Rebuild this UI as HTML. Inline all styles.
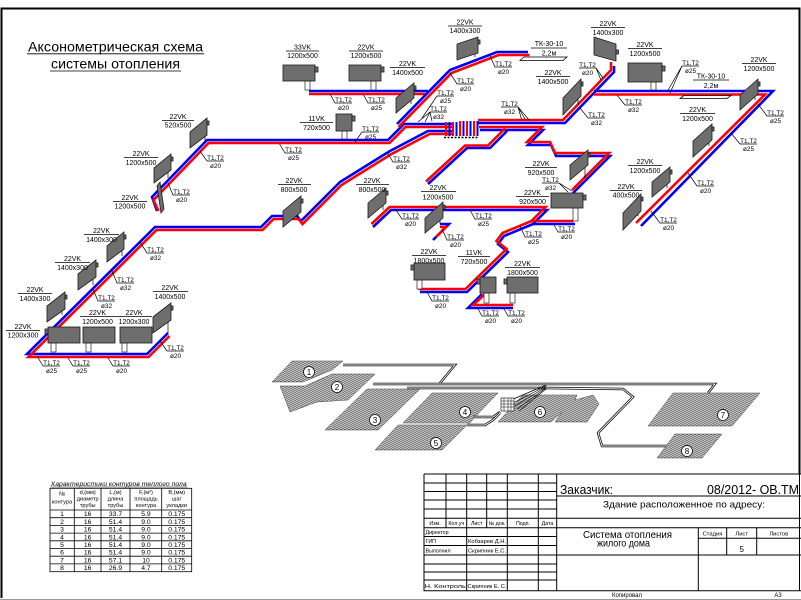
<!DOCTYPE html>
<html><head><meta charset="utf-8">
<style>
html,body{margin:0;padding:0;background:#fff;}
svg{display:block;}
text{font-family:"Liberation Sans","DejaVu Sans",sans-serif;fill:#000;}
.s{font-size:7px;}
.t{font-size:6.4px;}
.m{text-anchor:middle;}
.b{fill:none;stroke:#0000ff;stroke-width:2.6;stroke-linejoin:miter;}
.r{fill:none;stroke:#ff0000;stroke-width:2.6;stroke-linejoin:miter;}
.rad{fill:#6e6e6e;stroke:#1a1a1a;stroke-width:0.8;}
.ln{stroke:#000;stroke-width:0.7;fill:none;}
.tb{stroke:#000;stroke-width:1;fill:none;}
.stub{fill:#fff;stroke:#222;stroke-width:0.7;}
.room{fill:url(#hp);stroke:#444;stroke-width:0.5;}
.dp{fill:none;stroke:#000;stroke-width:2.4;}
.dw{fill:none;stroke:#fff;stroke-width:0.9;}
</style></head><body>
<svg width="801" height="600" viewBox="0 0 801 600" xmlns="http://www.w3.org/2000/svg">
<defs>
<pattern id="hp" patternUnits="userSpaceOnUse" width="4" height="2"><rect width="4" height="2" fill="#c4c4c4"/><line x1="0" y1="1.6" x2="4" y2="0.4" stroke="#555" stroke-width="0.6"/></pattern>
</defs>
<rect width="801" height="600" fill="#fff"/>

<!-- frame -->
<path d="M1.5,598 V8.5 H799.5 V474" fill="none" stroke="#000" stroke-width="2"/>

<!-- title -->
<text x="28" y="51.5" font-size="14" textLength="175" lengthAdjust="spacingAndGlyphs">Аксонометрическая схема</text>
<line x1="27" y1="53.8" x2="204" y2="53.8" stroke="#000" stroke-width="0.8"/>
<text x="51" y="68.3" font-size="14" textLength="129" lengthAdjust="spacingAndGlyphs">системы отопления</text>
<line x1="50" y1="71" x2="181" y2="71" stroke="#000" stroke-width="0.8"/>

<!-- ================= PIPES ================= -->
<path class="b" d="M309,91 L428,91"/>
<path class="r" d="M309,94 L426,94"/>
<path class="b" d="M157,211 L152,197 L207,140 L388,140 L404,124 L452,124"/>
<path class="r" transform="translate(1.5,3)" d="M157,208 L152,197 L207,140 L388,140 L404,124 L452,124"/>
<path class="b" d="M397,124 L450,70 L497,52 L528,52"/>
<path class="r" transform="translate(1.5,3)" d="M397,124 L450,70 L497,52 L528,52"/>
<path class="b" d="M452,131 L428,131 L390,151 L340,182 L301,221 L297,216 L272,216 L261,227 L155,227 L27,354 L147,354 L168,333"/>
<path class="r" transform="translate(1.5,3)" d="M452,131 L428,131 L390,151 L340,182 L301,221 L297,216 L272,216 L261,227 L155,227 L27,354 L147,354 L168,333"/>
<path class="b" d="M478,123 L565,123 L614,72 L614,66"/>
<path class="r" d="M478,120 L563,120 L611,70 L611,62"/>
<path class="b" d="M594,91 L773,91 L641,226"/>
<path class="r" d="M594,94.5 L765,94.5 L636,223"/>
<path class="b" d="M480,130 L543,130 L528,145 L551,145 L556,156 L610,156 L573,193"/>
<path class="r" transform="translate(-1,-3)" d="M480,130 L543,130 L528,145 L551,145 L556,156 L610,156 L573,193"/>
<path class="b" d="M507,131 L490,148 L467,148 L428,184"/>
<path class="r" transform="translate(-2,-2.5)" d="M507,131 L490,148 L467,148 L428,184"/>
<path class="b" d="M373,227 L391,210 L547,210 L533,224 L575,224"/>
<path class="r" transform="translate(-1.5,-3)" d="M373,227 L391,210 L547,210 L533,224 L575,224"/>
<path class="b" d="M533,224 L504,236 L498,244 L508,252 L467,292 L420,292"/>
<path class="r" transform="translate(-1.5,-3)" d="M533,224 L504,236 L498,244 L508,252 L467,292 L420,292"/>
<path class="b" d="M482,294 L468,308 L513,308"/>
<path class="r" d="M485,294 L473,305 L513,305"/>
<path class="b" d="M433,240 L449,224 L440,224"/>
<path class="r" d="M436,237 L446,227 L440,227"/>

<!-- bundle -->
<g stroke-width="2">
<line x1="446" y1="122" x2="446" y2="136" stroke="#ff0000"/>
<line x1="449.5" y1="122" x2="449.5" y2="136" stroke="#0000ff"/>
<line x1="453" y1="122" x2="453" y2="136" stroke="#ff0000"/>
<line x1="456.5" y1="122" x2="456.5" y2="136" stroke="#0000ff"/>
<line x1="460" y1="121" x2="460" y2="136" stroke="#ff0000"/>
<line x1="463.5" y1="121" x2="463.5" y2="136" stroke="#0000ff"/>
<line x1="467" y1="121" x2="467" y2="136" stroke="#ff0000"/>
<line x1="470.5" y1="121" x2="470.5" y2="136" stroke="#0000ff"/>
<line x1="474" y1="121" x2="474" y2="136" stroke="#ff0000"/>
<line x1="477.5" y1="121" x2="477.5" y2="136" stroke="#0000ff"/>
</g>
<path d="M444,137.5 H479" stroke="#000" stroke-width="1.6" stroke-dasharray="2,1.5"/>

<!-- ================= RADIATORS ================= -->
<rect class="stub" x="305" y="81" width="5" height="9"/>
<rect class="stub" x="371" y="81" width="5" height="9"/>
<rect class="stub" x="342" y="131" width="5" height="8"/>
<rect class="stub" x="651" y="82" width="5" height="8"/>
<rect class="stub" x="573" y="208" width="5" height="13"/>
<rect class="stub" x="417" y="280" width="5" height="9"/>
<rect class="stub" x="484" y="293" width="5" height="10"/>
<rect class="stub" x="510" y="293" width="5" height="10"/>
<rect class="stub" x="51" y="343" width="5" height="9"/>
<rect class="stub" x="86" y="343" width="5" height="9"/>
<rect class="stub" x="122" y="343" width="5" height="9"/>
<g class="ln">
<line x1="205" y1="135" x2="205" y2="141"/>
<line x1="168" y1="171" x2="168" y2="178"/>
<line x1="122" y1="249" x2="122" y2="256"/>
<line x1="93" y1="277" x2="93" y2="285"/>
<line x1="62" y1="309" x2="62" y2="315"/>
<line x1="168" y1="320" x2="168" y2="333"/>
<line x1="298" y1="212" x2="298" y2="218"/>
<line x1="383" y1="203" x2="383" y2="210"/>
<line x1="440" y1="218" x2="440" y2="224"/>
<line x1="411" y1="98" x2="411" y2="104"/>
<line x1="475" y1="53" x2="475" y2="57"/>
<line x1="578" y1="96" x2="578" y2="105"/>
<line x1="755" y1="94" x2="755" y2="100"/>
<line x1="709" y1="140" x2="709" y2="146"/>
<line x1="667" y1="182" x2="667" y2="188"/>
<line x1="638" y1="211" x2="638" y2="216"/>
<line x1="585" y1="165" x2="585" y2="178"/>
</g>
<polygon class="rad" points="190,148 190,132 207,118 207,135"/>
<polygon class="rad" points="154,183 154,168 171,154 171,170"/>
<polygon class="rad" points="157,186 160,182 164,209 161,213"/>
<polygon class="rad" points="107,262 107,246 124,232 124,249"/>
<polygon class="rad" points="78,290 78,274 96,260 96,277"/>
<polygon class="rad" points="47,322 47,306 65,292 65,309"/>
<polygon class="rad" points="153,333 153,317 171,303 171,320"/>
<polygon class="rad" points="283,227 283,211 301,196 301,212"/>
<polygon class="rad" points="368,218 368,203 386,188 386,203"/>
<polygon class="rad" points="425,233 425,218 443,202 443,218"/>
<polygon class="rad" points="396,113 396,98 414,83 414,98"/>
<polygon class="rad" points="457,60 457,44 478,37 478,53"/>
<polygon class="rad" points="594,37 616,44 616,61 594,55"/>
<polygon class="rad" points="563,115 563,98 581,79 581,96"/>
<polygon class="rad" points="740,110 740,95 758,79 758,94"/>
<polygon class="rad" points="693,157 693,141 712,124 712,140"/>
<polygon class="rad" points="652,197 652,182 670,167 670,182"/>
<polygon class="rad" points="623,230 623,213 641,194 641,211"/>
<polygon class="rad" points="570,180 570,165 588,150 588,165"/>
<g class="rad">
<rect x="207" y="121" width="2" height="4"/><rect x="171" y="157" width="2" height="4"/>
<rect x="124" y="235" width="2" height="4"/><rect x="96" y="263" width="2" height="4"/>
<rect x="65" y="295" width="2" height="4"/><rect x="171" y="306" width="2" height="4"/>
<rect x="301" y="199" width="2" height="4"/><rect x="386" y="191" width="2" height="4"/>
<rect x="443" y="205" width="2" height="4"/><rect x="414" y="86" width="2" height="4"/>
<rect x="478" y="40" width="2" height="4"/><rect x="616" y="50" width="2.5" height="4"/>
<rect x="581" y="82" width="2" height="4"/><rect x="758" y="82" width="2" height="4"/>
<rect x="712" y="127" width="2" height="4"/><rect x="670" y="170" width="2" height="4"/>
<rect x="641" y="197" width="2" height="4"/><rect x="588" y="153" width="2" height="4"/>
</g>
<rect class="rad" x="283" y="65" width="32" height="16"/><rect class="rad" x="315" y="67" width="3" height="5"/>
<rect class="rad" x="349" y="65" width="32" height="16"/><rect class="rad" x="381" y="67" width="3" height="5"/>
<rect class="rad" x="336" y="114" width="16" height="17"/><rect class="rad" x="352" y="116" width="3" height="5"/>
<rect class="rad" x="628" y="63" width="34" height="19"/><rect class="rad" x="662" y="66" width="3" height="5"/>
<rect class="rad" x="551" y="193" width="32" height="15"/><rect class="rad" x="583" y="195" width="3" height="5"/>
<rect class="rad" x="414" y="263" width="31" height="17"/><rect class="rad" x="411" y="265" width="3" height="5"/>
<rect class="rad" x="480" y="277" width="16" height="16"/><rect class="rad" x="477" y="279" width="3" height="5"/>
<rect class="rad" x="507" y="277" width="31" height="16"/><rect class="rad" x="504" y="279" width="3" height="5"/>
<rect class="rad" x="48" y="327" width="32" height="16"/><rect class="rad" x="45" y="329" width="3" height="5"/>
<rect class="rad" x="83" y="327" width="32" height="16"/>
<rect class="rad" x="120" y="327" width="32" height="16"/>

<polygon points="520,60.5 563,60.5 567,57 524,57" fill="#fff" stroke="#000" stroke-width="0.8"/>
<polygon points="680,98.5 727,98.5 731,95.5 684,95.5" fill="#fff" stroke="#000" stroke-width="0.8"/>
<text class="s m" x="549" y="46">ТК-30-10</text>
<line class="ln" x1="531" y1="48" x2="567" y2="48"/>
<text class="s m" x="549" y="55.5">2,2м</text>
<text class="s m" x="711" y="78.5">ТК-30-10</text>
<line class="ln" x1="693" y1="80" x2="729" y2="80"/>
<text class="s m" x="711" y="88">2,2м</text>

<!-- ================= RADIATOR LABELS ================= -->
<g class="s m">
<text x="465" y="24.5">22VK</text><text x="465" y="33">1400x300</text>
<text x="302.5" y="49.5">33VK</text><text x="302.5" y="58">1200x500</text>
<text x="366" y="49.5">22VK</text><text x="366" y="58">1200x500</text>
<text x="407.5" y="66">22VK</text><text x="407.5" y="75">1400x500</text>
<text x="316.5" y="121">11VK</text><text x="316.5" y="130">720x500</text>
<text x="608" y="26">22VK</text><text x="608" y="35">1400x300</text>
<text x="645" y="47">22VK</text><text x="645" y="56">1200x500</text>
<text x="553" y="75">22VK</text><text x="553" y="84">1400x500</text>
<text x="759" y="62">22VK</text><text x="759" y="71">1200x500</text>
<text x="697.5" y="112">22VK</text><text x="697.5" y="121">1200x500</text>
<text x="645" y="164">22VK</text><text x="645" y="173">1200x500</text>
<text x="626" y="189">22VK</text><text x="626" y="197.5">400x500</text>
<text x="178" y="119">22VK</text><text x="178" y="127.5">520x500</text>
<text x="141" y="156">22VK</text><text x="141" y="165">1200x500</text>
<text x="130" y="200">22VK</text><text x="130" y="208.5">1200x500</text>
<text x="101.5" y="233">22VK</text><text x="101.5" y="242">1400x300</text>
<text x="72.5" y="261">22VK</text><text x="72.5" y="270">1400x300</text>
<text x="35" y="292">22VK</text><text x="35" y="301">1400x300</text>
<text x="23" y="329">22VK</text><text x="23" y="337.5">1200x300</text>
<text x="97.5" y="315">22VK</text><text x="97.5" y="324">1200x500</text>
<text x="134" y="315">22VK</text><text x="134" y="324">1200x300</text>
<text x="170" y="290">22VK</text><text x="170" y="299">1400x500</text>
<text x="294" y="183">22VK</text><text x="294" y="192">800x500</text>
<text x="372" y="183">22VK</text><text x="372" y="192">800x500</text>
<text x="438" y="190">22VK</text><text x="438" y="199.5">1200x500</text>
<text x="541" y="166">22VK</text><text x="541" y="175">920x500</text>
<text x="532.5" y="195">22VK</text><text x="532.5" y="204">920x500</text>
<text x="429" y="254">22VK</text><text x="429" y="263">1800x500</text>
<text x="474" y="255">11VK</text><text x="474" y="264">720x500</text>
<text x="522.5" y="266">22VK</text><text x="522.5" y="275">1800x500</text>
</g>
<g class="ln">
<line x1="448" y1="26" x2="482" y2="26"/>
<line x1="286" y1="51" x2="319" y2="51"/>
<line x1="349" y1="51" x2="383" y2="51"/>
<line x1="390" y1="67.5" x2="425" y2="67.5"/>
<line x1="300" y1="122.5" x2="333" y2="122.5"/>
<line x1="591" y1="27.5" x2="625" y2="27.5"/>
<line x1="628" y1="48.5" x2="662" y2="48.5"/>
<line x1="536" y1="76.5" x2="570" y2="76.5"/>
<line x1="742" y1="63.5" x2="776" y2="63.5"/>
<line x1="680" y1="113.5" x2="715" y2="113.5"/>
<line x1="628" y1="165.5" x2="662" y2="165.5"/>
<line x1="610" y1="190.5" x2="642" y2="190.5"/>
<line x1="162" y1="120.5" x2="194" y2="120.5"/>
<line x1="124" y1="157.5" x2="158" y2="157.5"/>
<line x1="113" y1="201.5" x2="147" y2="201.5"/>
<line x1="84" y1="234.5" x2="119" y2="234.5"/>
<line x1="55" y1="262.5" x2="90" y2="262.5"/>
<line x1="18" y1="293.5" x2="52" y2="293.5"/>
<line x1="6" y1="330.5" x2="40" y2="330.5"/>
<line x1="80" y1="316.5" x2="152" y2="316.5"/>
<line x1="153" y1="291.5" x2="188" y2="291.5"/>
<line x1="278" y1="184.5" x2="311" y2="184.5"/>
<line x1="356" y1="184.5" x2="389" y2="184.5"/>
<line x1="421" y1="191.5" x2="456" y2="191.5"/>
<line x1="525" y1="167.5" x2="557" y2="167.5"/>
<line x1="516" y1="196.5" x2="549" y2="196.5"/>
<line x1="412" y1="255.5" x2="446" y2="255.5"/>
<line x1="458" y1="256.5" x2="490" y2="256.5"/>
<line x1="505" y1="267.5" x2="540" y2="267.5"/>
</g>

<!-- ================= PIPE LABELS ================= -->
<g class="ln">
<path d="M330,94 L335,103 h17"/>
<path d="M363,94 L368,103 h17"/>
<path d="M422,118 L437,96 h17"/>
<path d="M418,122 L430,112 h17 M425,122 L430,112 M432,121 L430,112"/>
<path d="M450,73 L457,84 h17"/>
<path d="M490,56 L495,67 h17"/>
<path d="M501,107 h17 L522,121 M518,107 L526,121 M518,107 L530,121"/>
<path d="M355,142 L362,132 h17"/>
<path d="M279,143 L285,153 h17"/>
<path d="M387,152 L393,162 h17"/>
<path d="M579,68 h17 L603,78 M596,68 L601,80"/>
<path d="M699,66 h-17 L667,92 M682,66 L670,93"/>
<path d="M617,95 L625,105 h17"/>
<path d="M580,108 L588,118 h17"/>
<path d="M758,104 L767,116 h17"/>
<path d="M731,133 L740,144 h17"/>
<path d="M688,173 L697,186 h17"/>
<path d="M651,211 L660,223 h17"/>
<path d="M542,183 h17 L568,192 M559,183 L572,191"/>
<path d="M200,151 L207,161 h17"/>
<path d="M168,183 L173,195 h17"/>
<path d="M140,242 L147,253 h17"/>
<path d="M112,271 L117,283 h17"/>
<path d="M93,289 L98,301 h17"/>
<path d="M160,341 L167,351 h17"/>
<path d="M37,356 L43,366 h17"/>
<path d="M67,356 L73,366 h17"/>
<path d="M107,356 L113,366 h17"/>
<path d="M396,210 L402,219 h17"/>
<path d="M470,210 L475,219 h17"/>
<path d="M442,229 L447,240 h17"/>
<path d="M520,226 L525,237 h17"/>
<path d="M427,292 L432,301 h17"/>
<path d="M477,307 L482,316 h17"/>
<path d="M503,307 L508,316 h17"/>
<path d="M553,223 L558,232 h17"/>
</g>
<g class="t m">
<text x="343.5" y="101.8">T1,T2</text><text x="343.5" y="110">ø20</text>
<text x="376.5" y="101.8">T1,T2</text><text x="376.5" y="110">ø25</text>
<text x="445.5" y="94.8">T1,T2</text><text x="445.5" y="103">ø25</text>
<text x="438.5" y="110.8">T1,T2</text><text x="438.5" y="119">ø32</text>
<text x="465.5" y="82.8">T1,T2</text><text x="465.5" y="91">ø20</text>
<text x="503.5" y="65.8">T1,T2</text><text x="503.5" y="74">ø20</text>
<text x="509.5" y="105.8">T1,T2</text><text x="509.5" y="114">ø32</text>
<text x="370.5" y="130.8">T1,T2</text><text x="370.5" y="139">ø25</text>
<text x="293.5" y="151.8">T1,T2</text><text x="293.5" y="160">ø25</text>
<text x="401.5" y="160.8">T1,T2</text><text x="401.5" y="169">ø32</text>
<text x="587.5" y="66.8">T1,T2</text><text x="587.5" y="75">ø20</text>
<text x="690.5" y="64.8">T1,T2</text><text x="690.5" y="73">ø25</text>
<text x="633.5" y="103.8">T1,T2</text><text x="633.5" y="112">ø32</text>
<text x="596.5" y="116.8">T1,T2</text><text x="596.5" y="125">ø32</text>
<text x="775.5" y="114.8">T1,T2</text><text x="775.5" y="123">ø25</text>
<text x="748.5" y="142.8">T1,T2</text><text x="748.5" y="151">ø25</text>
<text x="705.5" y="184.8">T1,T2</text><text x="705.5" y="193">ø20</text>
<text x="668.5" y="221.8">T1,T2</text><text x="668.5" y="230">ø20</text>
<text x="550.5" y="181.8">T1,T2</text><text x="550.5" y="190">ø32</text>
<text x="215.5" y="159.8">T1,T2</text><text x="215.5" y="168">ø20</text>
<text x="181.5" y="193.8">T1,T2</text><text x="181.5" y="202">ø20</text>
<text x="155.5" y="251.8">T1,T2</text><text x="155.5" y="260">ø32</text>
<text x="125.5" y="281.8">T1,T2</text><text x="125.5" y="290">ø32</text>
<text x="106.5" y="299.8">T1,T2</text><text x="106.5" y="308">ø32</text>
<text x="175.5" y="349.8">T1,T2</text><text x="175.5" y="358">ø20</text>
<text x="51.5" y="364.8">T1,T2</text><text x="51.5" y="373">ø25</text>
<text x="81.5" y="364.8">T1,T2</text><text x="81.5" y="373">ø25</text>
<text x="121.5" y="364.8">T1,T2</text><text x="121.5" y="373">ø20</text>
<text x="410.5" y="217.8">T1,T2</text><text x="410.5" y="226">ø20</text>
<text x="483.5" y="217.8">T1,T2</text><text x="483.5" y="226">ø25</text>
<text x="455.5" y="238.8">T1,T2</text><text x="455.5" y="247">ø20</text>
<text x="533.5" y="235.8">T1,T2</text><text x="533.5" y="244">ø25</text>
<text x="440.5" y="299.8">T1,T2</text><text x="440.5" y="308">ø20</text>
<text x="490.5" y="314.8">T1,T2</text><text x="490.5" y="323">ø20</text>
<text x="516.5" y="314.8">T1,T2</text><text x="516.5" y="323">ø20</text>
<text x="566.5" y="230.8">T1,T2</text><text x="566.5" y="239">ø20</text>
</g>

<!-- ================= FLOOR PLAN ================= -->
<polygon class="room" points="272,382 292,361 343,361 332,370 303,382"/>
<polygon class="room" points="280,386 305,386 332,374 375,374 348,400 317,402 290,412"/>
<polygon class="room" points="325,430 367,389 420,389 378,430"/>
<polygon class="room" points="403,423 432,393 498,393 474,418 470,423"/>
<polygon class="room" points="375,450 398,425 467,425 442,450"/>
<polygon class="room" points="498,422 523,395 577,395 575,400 593,395 599,404 587,422 555,422 562,412 551,422"/>
<polygon class="room" points="648,426 673,393 760,393 732,426"/>
<polygon class="room" points="657,458 675,434 722,434 702,458"/>
<g>
<path class="dp" d="M343,365 H455 L440,383"/><path class="dw" d="M343,365 H455 L440,383"/>
<path class="dp" d="M373,384 H547"/><path class="dw" d="M373,384 H547"/>
<path class="dp" d="M407,388 H547"/><path class="dw" d="M407,388 H547"/>
<path class="dp" d="M546,384 H715 L708,393"/><path class="dw" d="M546,384 H715 L708,393"/>
<path class="dp" d="M546,388 L623,389 L633,397 L598,433 L602,446 L667,446"/><path class="dw" d="M546,388 L623,389 L633,397 L598,433 L602,446 L667,446"/>
<path class="dp" d="M473,417 H493 L500,412"/><path class="dw" d="M473,417 H493 L500,412"/>
<path class="dp" d="M467,425 H485 L493,420 L500,413"/><path class="dw" d="M467,425 H485 L493,420 L500,413"/>
</g>
<g stroke="#000" stroke-width="0.7" fill="none">
<path d="M546,385 L511,400 M546,386 L513,403 M546,387 L515,406 M546,388 L517,409 M546,389 L519,411"/>
</g>
<rect x="501" y="398" width="13" height="13" fill="#fff" stroke="#000" stroke-width="0.6"/>
<path d="M501,401 h13 M501,404 h13 M501,407 h13 M504,398 v13 M508,398 v13 M511,398 v13" stroke="#000" stroke-width="0.5"/>
<g font-size="8" text-anchor="middle">
<circle cx="309" cy="372" r="5.5" fill="#fff" stroke="#000" stroke-width="0.7"/><text x="309" y="375">1</text>
<circle cx="337" cy="387" r="5.5" fill="#fff" stroke="#000" stroke-width="0.7"/><text x="337" y="390">2</text>
<circle cx="375" cy="420" r="5.5" fill="#fff" stroke="#000" stroke-width="0.7"/><text x="375" y="423">3</text>
<circle cx="465" cy="412" r="5.5" fill="#fff" stroke="#000" stroke-width="0.7"/><text x="465" y="415">4</text>
<circle cx="436" cy="443" r="5.5" fill="#fff" stroke="#000" stroke-width="0.7"/><text x="436" y="446">5</text>
<circle cx="540" cy="412" r="5.5" fill="#fff" stroke="#000" stroke-width="0.7"/><text x="540" y="415">6</text>
<circle cx="723" cy="415" r="5.5" fill="#fff" stroke="#000" stroke-width="0.7"/><text x="723" y="418">7</text>
<circle cx="687" cy="451" r="5.5" fill="#fff" stroke="#000" stroke-width="0.7"/><text x="687" y="454">8</text>
</g>

<!-- ================= TABLE ================= -->
<text x="50.7" y="485.8" font-size="6.3" textLength="136" lengthAdjust="spacingAndGlyphs" font-style="italic">Характеристики контуров теплого пола</text>
<line x1="50.5" y1="487" x2="187.5" y2="487" stroke="#000" stroke-width="0.6"/>
<g stroke="#000" stroke-width="0.8" fill="none">
<rect x="50" y="488.3" width="141.7" height="83.4"/>
<path d="M74.3,488.3 V571.7 M101,488.3 V571.7 M130,488.3 V571.7 M161.7,488.3 V571.7"/>
<path d="M50,510 H191.7 M50,517.7 H191.7 M50,525.4 H191.7 M50,533.1 H191.7 M50,540.8 H191.7 M50,548.5 H191.7 M50,556.2 H191.7 M50,563.9 H191.7"/>
</g>
<g font-size="5.6" text-anchor="middle">
<text x="62" y="495.5">№</text><text x="62" y="503.5">контура</text>
<text x="87.7" y="494">d,(мм)</text><text x="87.7" y="500.5">диаметр</text><text x="87.7" y="507">трубы</text>
<text x="115.5" y="494">L,(м)</text><text x="115.5" y="500.5">длина</text><text x="115.5" y="507">трубы</text>
<text x="146" y="494">F,(м²)</text><text x="146" y="500.5">площадь</text><text x="146" y="507">контура</text>
<text x="176.7" y="494">B,(мм)</text><text x="176.7" y="500.5">шаг</text><text x="176.7" y="507">укладки</text>
</g>
<g font-size="6.8" text-anchor="middle">
<text x="62" y="516.2">1</text><text x="87.7" y="516.2">16</text><text x="115.5" y="516.2">33.7</text><text x="146" y="516.2">5.9</text><text x="176.7" y="516.2">0.175</text>
<text x="62" y="523.9">2</text><text x="87.7" y="523.9">16</text><text x="115.5" y="523.9">51.4</text><text x="146" y="523.9">9.0</text><text x="176.7" y="523.9">0.175</text>
<text x="62" y="531.6">3</text><text x="87.7" y="531.6">16</text><text x="115.5" y="531.6">51.4</text><text x="146" y="531.6">9.0</text><text x="176.7" y="531.6">0.175</text>
<text x="62" y="539.3">4</text><text x="87.7" y="539.3">16</text><text x="115.5" y="539.3">51.4</text><text x="146" y="539.3">9.0</text><text x="176.7" y="539.3">0.175</text>
<text x="62" y="547">5</text><text x="87.7" y="547">16</text><text x="115.5" y="547">51.4</text><text x="146" y="547">9.0</text><text x="176.7" y="547">0.175</text>
<text x="62" y="554.7">6</text><text x="87.7" y="554.7">16</text><text x="115.5" y="554.7">51.4</text><text x="146" y="554.7">9.0</text><text x="176.7" y="554.7">0.175</text>
<text x="62" y="562.4">7</text><text x="87.7" y="562.4">16</text><text x="115.5" y="562.4">57.1</text><text x="146" y="562.4">10</text><text x="176.7" y="562.4">0.175</text>
<text x="62" y="570.1">8</text><text x="87.7" y="570.1">16</text><text x="115.5" y="570.1">26.9</text><text x="146" y="570.1">4.7</text><text x="176.7" y="570.1">0.175</text>
</g>

<!-- ================= TITLE BLOCK ================= -->
<g class="tb">
<path d="M424,474 H801 M424,474 V590.7 H801 M799.5,474 V590.7"/>
<path d="M424,483 H556.7 M424,491.5 H556.7 M424,500 H556.7 M424,509 H556.7 M424,518.3 H801 M424,527.7 H801"/>
<path d="M424,536.5 H556.7 M424,545.5 H556.7 M424,555 H801 M424,564 H556.7 M424,572 H556.7 M424,580 H556.7"/>
<path d="M446,474 V527.7 M486.7,474 V527.7 M466.7,474 V590.7 M507.3,474 V590.7 M538.3,474 V590.7 M556.7,474 V590.7"/>
<path d="M556.7,496 H801"/>
<path d="M698.3,527.7 V590.7 M726.7,527.7 V555 M756.7,527.7 V555 M698.3,538.3 H801"/>
</g>
<g font-size="5.3">
<text x="435" y="525" text-anchor="middle">Изм.</text>
<text x="456.3" y="525" text-anchor="middle">Кол.уч</text>
<text x="476.7" y="525" text-anchor="middle">Лист</text>
<text x="497" y="525" text-anchor="middle">№ док.</text>
<text x="523" y="525" text-anchor="middle">Подп.</text>
<text x="547.5" y="525" text-anchor="middle">Дата</text>
<text x="425.5" y="534">Директор</text>
<text x="425.5" y="543">ГИП</text>
<text x="468" y="543" textLength="38" lengthAdjust="spacingAndGlyphs">Кобзарев Д.Н.</text>
<text x="425.5" y="552.5">Выполнил</text>
<text x="468" y="552.5" textLength="38" lengthAdjust="spacingAndGlyphs">Скрипник Е.С.</text>
<text x="424.8" y="588" textLength="41" lengthAdjust="spacingAndGlyphs">Н. Контроль</text>
<text x="467.5" y="588" textLength="39" lengthAdjust="spacingAndGlyphs">Скрипник Е. С.</text>
</g>
<text x="560" y="494" font-size="12.5" textLength="53" lengthAdjust="spacingAndGlyphs">Заказчик:</text>
<text x="707" y="494" font-size="12.5" textLength="92" lengthAdjust="spacingAndGlyphs">08/2012- ОВ.ТМ</text>
<text x="603" y="507.5" font-size="9.5" textLength="162" lengthAdjust="spacingAndGlyphs">Здание расположенное по адресу:</text>
<text x="583" y="538" font-size="10" textLength="89" lengthAdjust="spacingAndGlyphs">Система отопления</text>
<text x="597" y="546.5" font-size="10" textLength="53" lengthAdjust="spacingAndGlyphs">жилого дома</text>
<g font-size="5.8" text-anchor="middle">
<text x="712.5" y="535.5">Стадия</text>
<text x="741.7" y="535.5">Лист</text>
<text x="778.8" y="535.5">Листов</text>
</g>
<text x="741.7" y="552" font-size="8" text-anchor="middle">5</text>
<text x="627" y="597" font-size="6" text-anchor="middle">Копировал</text>
<text x="778" y="597" font-size="6" text-anchor="middle">А3</text>
<rect x="0" y="599" width="801" height="1" fill="#999"/>
</svg>
</body></html>
